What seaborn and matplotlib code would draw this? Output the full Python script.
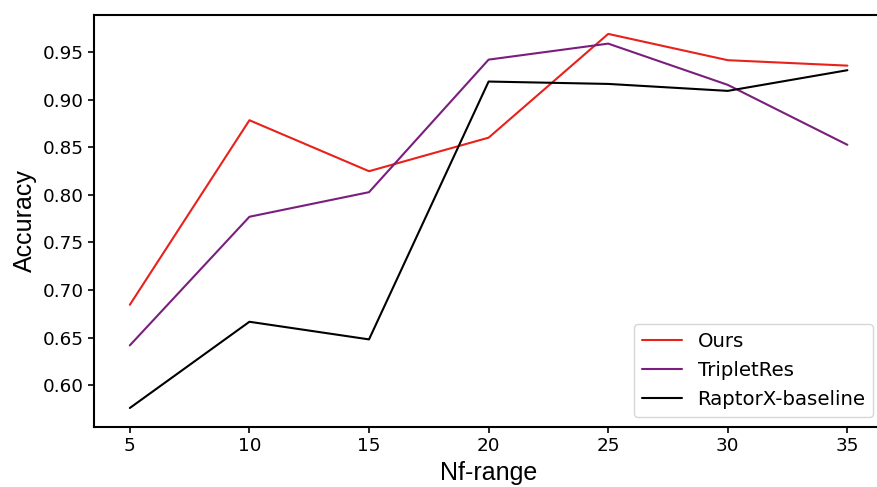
import matplotlib
matplotlib.use("Agg")
import matplotlib.pyplot as plt
import seaborn as sns
import pandas as pd

nf_range = [5, 10, 15, 20, 25, 30, 35]
ours = [0.6846, 0.8783, 0.8248, 0.8600, 0.9689, 0.9413, 0.9356]
tripletres = [0.6420, 0.7770, 0.8028, 0.9419, 0.9587, 0.9154, 0.8525]
raptorx = [0.5763, 0.6668, 0.6483, 0.9189, 0.9164, 0.9091, 0.9308]
series_names = ["Ours", "TripletRes", "RaptorX-baseline"]
colors = ["#e8211b", "#7a1e7e", "#000000"]

df = pd.DataFrame({
    "Nf-range": nf_range * 3,
    "Accuracy": ours + tripletres + raptorx,
    "Method": [series_names[0]] * 7 + [series_names[1]] * 7 + [series_names[2]] * 7,
})

sns.set_style("ticks")
plt.rcParams["font.family"] = ["DejaVu Sans"]
plt.rcParams["text.color"] = "black"
plt.rcParams["axes.labelcolor"] = "black"
plt.rcParams["xtick.color"] = "black"
plt.rcParams["ytick.color"] = "black"

fig = plt.figure(figsize=(8.78, 4.87), dpi=100)
ax = fig.add_axes([0.107, 0.1238, 0.899, 0.845])
sns.lineplot(data=df, x="Nf-range", y="Accuracy", hue="Method",
             palette=dict(zip(series_names, colors)), linewidth=1.5, ax=ax)

ax.set_xticks(nf_range)
ax.tick_params(labelsize=13.2, direction="out", length=4, width=1.2, colors="black")
for s in ax.spines.values():
    s.set_linewidth(1.5)
    s.set_color("black")
ax.set_xlabel("Nf-range", fontsize=18, family="Liberation Sans", color="black")
ax.set_ylabel("Accuracy", fontsize=18, family="Liberation Sans", color="black")
leg = ax.legend(loc="lower right", fontsize=14.2, title=None)
for t in leg.get_texts():
    t.set_color("black")
fig.savefig("out.png", dpi=100)
